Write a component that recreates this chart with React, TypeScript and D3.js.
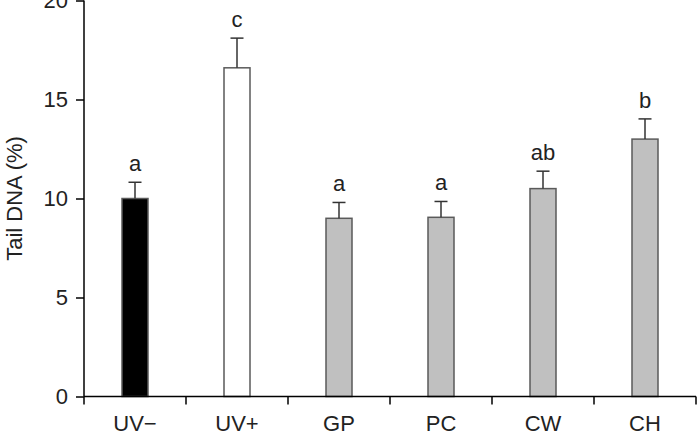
import React, { useEffect, useRef } from 'react';
import * as d3 from 'd3';

// groups, means, upper error and significance letters
const groups = ['UV\u2212', 'UV+', 'GP', 'PC', 'CW', 'CH'];
const means = [10.0, 16.6, 9.0, 9.05, 10.5, 13.0];
const errors = [0.82, 1.5, 0.8, 0.8, 0.88, 1.02];
const letters = ['a', 'c', 'a', 'a', 'ab', 'b'];
const fills = ['#000000', '#ffffff', '#c0c0c0', '#c0c0c0', '#c0c0c0', '#c0c0c0'];
const yTicks = [0, 5, 10, 15, 20];

const W = 698;
const H = 438;
const FONT = 'Liberation Sans, Arial, Helvetica, sans-serif';

const App = () => {
  const ref = useRef<SVGSVGElement>(null);

  useEffect(() => {
    const svg = d3.select(ref.current);
    svg.selectAll('*').remove();

    const x = d3.scaleBand<string>()
      .domain(groups)
      .range([84, 696])
      .paddingInner(0)
      .paddingOuter(0);

    const y = d3.scaleLinear()
      .domain([0, 20])
      .range([396.5, 0.5]);

    const barW = 26;
    const cx = (g: string) => (x(g) as number) + x.bandwidth() / 2;

    // bars
    svg.append('g')
      .selectAll('rect')
      .data(groups)
      .enter()
      .append('rect')
      .attr('x', d => cx(d) - barW / 2)
      .attr('y', (d, i) => y(means[i]))
      .attr('width', barW)
      .attr('height', (d, i) => y(0) - y(means[i]))
      .attr('fill', (d, i) => fills[i])
      .attr('stroke', '#5a5a5a')
      .attr('stroke-width', 1.5);

    // error bars (upper half only)
    const err = svg.append('g').attr('stroke', '#333').attr('stroke-width', 1.5);
    groups.forEach((g, i) => {
      const top = y(means[i] + errors[i]);
      err.append('line')
        .attr('x1', cx(g)).attr('x2', cx(g))
        .attr('y1', y(means[i])).attr('y2', top);
      err.append('line')
        .attr('x1', cx(g) - 6.5).attr('x2', cx(g) + 6.5)
        .attr('y1', top).attr('y2', top);
    });

    // significance letters
    svg.append('g')
      .selectAll('text')
      .data(groups)
      .enter()
      .append('text')
      .attr('x', d => cx(d))
      .attr('y', (d, i) => y(means[i] + errors[i]) - 11)
      .attr('text-anchor', 'middle')
      .attr('font-family', FONT)
      .attr('font-size', 22)
      .attr('fill', '#222')
      .text((d, i) => letters[i]);

    // y axis
    const yAxis = svg.append('g')
      .attr('transform', 'translate(84,0)')
      .call(d3.axisLeft(y).tickValues(yTicks).tickSize(8).tickPadding(8).tickFormat(d3.format('d')));
    yAxis.select('.domain').attr('stroke', '#000').attr('stroke-width', 1.5).attr('d', 'M0,0.5V396.5');
    yAxis.selectAll('line').attr('stroke', '#000').attr('stroke-width', 1.5);
    yAxis.selectAll('text')
      .attr('font-family', FONT)
      .attr('font-size', 22)
      .attr('fill', '#222');

    // x axis with ticks on the group boundaries
    const xAxis = svg.append('g')
      .attr('transform', 'translate(0,396.5)');
    xAxis.append('line')
      .attr('x1', 84).attr('x2', 696)
      .attr('y1', 0).attr('y2', 0)
      .attr('stroke', '#000').attr('stroke-width', 1.5);
    const bounds = groups.map(g => x(g) as number).concat([x.range()[1]]);
    xAxis.selectAll('line.tick')
      .data(bounds)
      .enter()
      .append('line')
      .attr('class', 'tick')
      .attr('x1', d => d).attr('x2', d => d)
      .attr('y1', 0).attr('y2', 8)
      .attr('stroke', '#000').attr('stroke-width', 1.5);
    xAxis.selectAll('text')
      .data(groups)
      .enter()
      .append('text')
      .attr('x', d => cx(d))
      .attr('y', 34)
      .attr('text-anchor', 'middle')
      .attr('font-family', FONT)
      .attr('font-size', 22)
      .attr('fill', '#222')
      .text(d => d);

    // y axis title
    svg.append('text')
      .attr('transform', `translate(22,${y(10)}) rotate(-90)`)
      .attr('text-anchor', 'middle')
      .attr('font-family', FONT)
      .attr('font-size', 22)
      .attr('fill', '#222')
      .text('Tail DNA (%)');
  }, []);

  return (
    <svg
      ref={ref}
      width={W}
      height={H}
      style={{ position: 'absolute', left: 0, top: 0, background: '#fff' }}
    />
  );
};

export default App;
